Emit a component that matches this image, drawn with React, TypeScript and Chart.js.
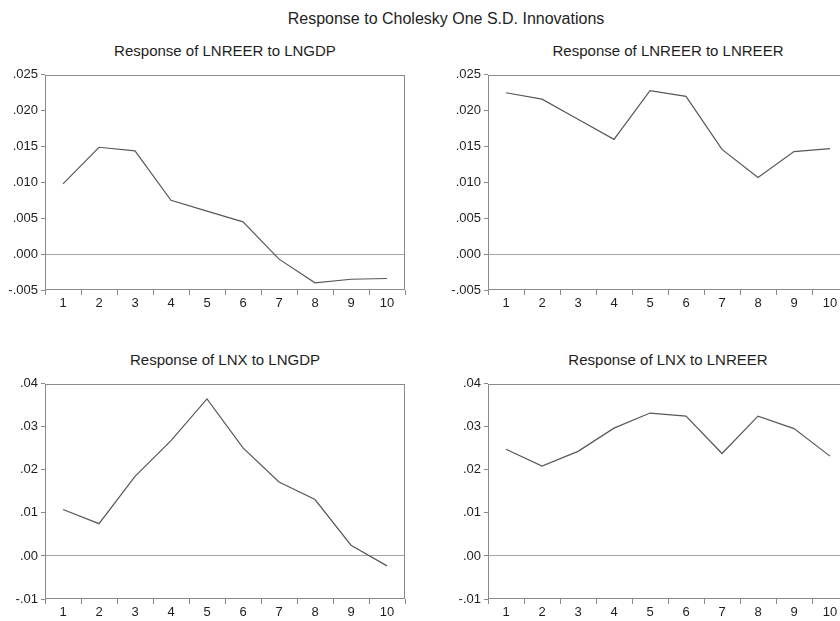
import React, { useEffect, useRef } from "react";
import { Chart, registerables } from "chart.js";

Chart.register(...registerables);

// ---- data ----
const periods = ["1", "2", "3", "4", "5", "6", "7", "8", "9", "10"];
const lnreerToLngdp = [0.0098, 0.0149, 0.0144, 0.0075, 0.006, 0.0045, -0.0007, -0.004, -0.0035, -0.0034];
const lnreerToLnreer = [0.0225, 0.0216, 0.0188, 0.016, 0.0228, 0.022, 0.0146, 0.0107, 0.0143, 0.0147];
const lnxToLngdp = [0.0108, 0.0075, 0.0185, 0.0268, 0.0365, 0.0251, 0.0172, 0.0131, 0.0025, -0.0023];
const lnxToLnreer = [0.0248, 0.0209, 0.0243, 0.0297, 0.0332, 0.0325, 0.0238, 0.0325, 0.0296, 0.0232];

const topRange = [-0.005, 0.025];
const topStep = 0.005;
const topDecimals = 3;
const bottomRange = [-0.01, 0.04];
const bottomStep = 0.01;
const bottomDecimals = 2;

const mainTitle = "Response to Cholesky One S.D. Innovations";
const panelTitles = [
  "Response of LNREER to LNGDP",
  "Response of LNREER to LNREER",
  "Response of LNX to LNGDP",
  "Response of LNX to LNREER",
];

// ---- styling / layout ----
const FONT = '"Liberation Sans", Arial, Helvetica, sans-serif';
const TEXT = "#1e1e1e";
const FRAME = "#8a8a8a";
const ZERO = "#a6a6a6";
const LINE = "#585858";

const Y_AXIS_W = 45;
const PAD_TOP = 10;
const PAD_RIGHT = 10;
const X_AXIS_H = 26;
const PLOT_W = 360;
const PLOT_H = 216;

const fmt = (v: number, d: number) => {
  if (Math.abs(v) < 1e-12) v = 0;
  const s = v.toFixed(d);
  return s.replace(/^(-?)0\./, "$1.");
};

const framePlugin = {
  id: "frame",
  afterDraw(chart: any) {
    const { ctx, chartArea } = chart;
    const l = Math.round(chartArea.left) + 0.5;
    const t = Math.round(chartArea.top) + 0.5;
    const r = Math.round(chartArea.right) - 0.5;
    const b = Math.round(chartArea.bottom) - 0.5;
    ctx.save();
    ctx.strokeStyle = FRAME;
    ctx.lineWidth = 1;
    ctx.strokeRect(l, t, r - l, b - t);
    ctx.restore();
  },
};

type PanelProps = {
  title: string;
  values: number[];
  range: number[];
  step: number;
  decimals: number;
  plotLeft: number;
  plotTop: number;
};

function Panel({ title, values, range, step, decimals, plotLeft, plotTop }: PanelProps) {
  const ref = useRef<HTMLCanvasElement | null>(null);
  const cw = Y_AXIS_W + PLOT_W + PAD_RIGHT;
  const ch = PAD_TOP + PLOT_H + X_AXIS_H;

  useEffect(() => {
    if (!ref.current) return;
    const chart = new Chart(ref.current, {
      type: "line",
      data: {
        labels: periods,
        datasets: [
          {
            data: values,
            borderColor: LINE,
            borderWidth: 1.2,
            pointRadius: 0,
            tension: 0,
            fill: false,
          },
        ],
      },
      options: {
        responsive: false,
        animation: false,
        devicePixelRatio: 1,
        layout: { padding: { top: PAD_TOP, right: PAD_RIGHT, left: 0, bottom: 0 } },
        plugins: {
          legend: { display: false },
          tooltip: { enabled: false },
          title: { display: false },
        },
        scales: {
          x: {
            type: "category",
            offset: true,
            border: { display: false },
            grid: {
              offset: true,
              display: true,
              drawOnChartArea: false,
              drawTicks: true,
              tickLength: 5,
              color: FRAME,
            },
            ticks: {
              padding: 1,
              color: TEXT,
              font: { family: FONT, size: 13 },
              maxRotation: 0,
              autoSkip: false,
            },
            afterFit: (s: any) => {
              s.height = X_AXIS_H;
            },
          },
          y: {
            min: range[0],
            max: range[1],
            border: { display: false },
            grid: {
              display: true,
              drawOnChartArea: true,
              drawTicks: true,
              tickLength: 4,
              color: (c: any) => (c.tick && Math.abs(c.tick.value) < 1e-9 ? ZERO : "rgba(0,0,0,0)"),
              tickColor: FRAME,
            },
            ticks: {
              stepSize: step,
              padding: 3,
              color: TEXT,
              font: { family: FONT, size: 13 },
              callback: (v: any) => fmt(Number(v), decimals),
            },
            afterFit: (s: any) => {
              s.width = Y_AXIS_W;
            },
          },
        },
      },
      plugins: [framePlugin],
    });
    return () => chart.destroy();
  }, []);

  return (
    <>
      <div
        style={{
          position: "absolute",
          left: plotLeft + PLOT_W / 2 - 200,
          width: 400,
          top: plotTop - 23 - 9,
          height: 18,
          lineHeight: "18px",
          textAlign: "center",
          fontFamily: FONT,
          fontSize: 15,
          color: TEXT,
          whiteSpace: "nowrap",
        }}
      >
        {title}
      </div>
      <canvas
        ref={ref}
        width={cw}
        height={ch}
        style={{
          position: "absolute",
          left: plotLeft - Y_AXIS_W,
          top: plotTop - PAD_TOP,
          width: cw,
          height: ch,
        }}
      />
    </>
  );
}

export default function App() {
  return (
    <div
      style={{
        position: "absolute",
        left: 0,
        top: 0,
        width: 840,
        height: 621,
        overflow: "hidden",
        background: "#ffffff",
      }}
    >
      <div
        style={{
          position: "absolute",
          left: 246,
          width: 400,
          top: 9,
          height: 20,
          lineHeight: "20px",
          textAlign: "center",
          fontFamily: FONT,
          fontSize: 16,
          color: TEXT,
          whiteSpace: "nowrap",
        }}
      >
        {mainTitle}
      </div>
      <Panel title={panelTitles[0]} values={lnreerToLngdp} range={topRange} step={topStep} decimals={topDecimals} plotLeft={45} plotTop={74} />
      <Panel title={panelTitles[1]} values={lnreerToLnreer} range={topRange} step={topStep} decimals={topDecimals} plotLeft={488} plotTop={74} />
      <Panel title={panelTitles[2]} values={lnxToLngdp} range={bottomRange} step={bottomStep} decimals={bottomDecimals} plotLeft={45} plotTop={383} />
      <Panel title={panelTitles[3]} values={lnxToLnreer} range={bottomRange} step={bottomStep} decimals={bottomDecimals} plotLeft={488} plotTop={383} />
    </div>
  );
}
